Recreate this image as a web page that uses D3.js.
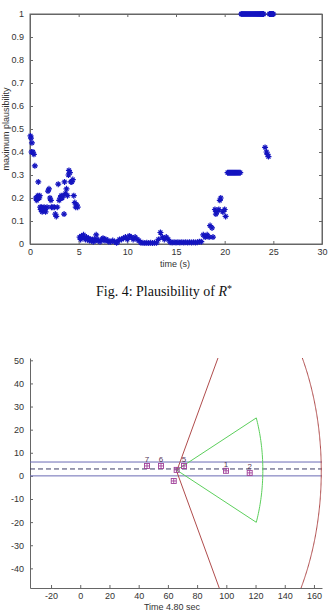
<!DOCTYPE html>
<html>
<head>
<meta charset="utf-8">
<script src="https://cdn.jsdelivr.net/npm/d3@7"></script>
<style>
  body { margin: 0; background: #fff; }
  svg text { font-family: "Liberation Sans", Arial, sans-serif; fill: #333; }
  .axis path, .axis line { stroke: #666; }
  .axis text { font-size: 9px; fill: #333; }
</style>
</head>
<body>
<div id="chart"></div>
<script>
// ---- Fig. 4 : maximum plausibility over time ----
const timeS = [
  0.05, 0.1, 0.2, 0.15, 0.3, 0.4, 0.5, 0.6, 0.7, 0.8, 0.85, 0.95, 1.0, 1.05, 1.1, 1.2, 1.25, 1.35, 1.45, 1.55,
  1.6, 1.75, 1.85, 1.95, 2.05, 2.15, 2.2, 2.35, 2.5, 2.6, 2.7, 2.8, 2.9, 3.0, 3.1, 3.2, 3.3, 3.4, 3.5, 3.55,
  3.65, 3.75, 3.85, 3.95, 4.0, 4.1, 4.2, 4.3, 4.4, 4.5, 4.6, 4.7, 4.8, 4.9,
  5.1, 5.2, 5.3, 5.4, 5.5, 5.6, 5.7, 5.8, 5.9, 6.0, 6.1, 6.2, 6.3, 6.4, 6.5, 6.6, 6.7, 6.8, 6.9, 7.0,
  7.2, 7.4, 7.5, 7.6, 7.7, 7.8, 8.0, 8.1, 8.3, 8.5, 8.7, 8.9, 9.0, 9.2, 9.4, 9.6, 9.8, 10.0, 10.2, 10.4,
  10.6, 10.8, 11.0, 11.2, 11.4, 11.6, 11.8, 12.0, 12.2, 12.4, 12.6, 12.8, 13.0, 13.2, 13.4, 13.6, 13.8, 14.0, 14.2,
  14.4, 14.6, 14.8, 15.0, 15.2, 15.4, 15.6, 15.8, 16.0, 16.2, 16.4, 16.6, 16.8, 17.0, 17.2, 17.4, 17.6,
  17.8, 18.0, 18.2, 18.4, 18.5, 18.7, 18.8, 19.0, 19.1, 19.2, 19.4, 19.5, 19.6, 19.8, 20.0, 20.1,
  20.3, 20.4, 20.5, 20.6, 20.7, 20.8, 20.9, 21.0, 21.1, 21.2, 21.3, 21.4, 21.5, 21.6,
  21.7, 21.8, 21.9, 22.0, 22.1, 22.2, 22.3, 22.4, 22.5, 22.6, 22.7, 22.8, 22.9, 23.0, 23.1, 23.2, 23.3, 23.4,
  23.5, 23.6, 23.7, 23.8, 23.9, 24.0, 24.15, 24.3, 24.4, 24.5, 24.6, 24.7, 24.8, 24.9, 25.0
];
const maxPlaus = [
  0.47, 0.46, 0.44, 0.40, 0.40, 0.39, 0.34, 0.20, 0.19, 0.21, 0.27, 0.20, 0.21, 0.16, 0.15, 0.16, 0.14, 0.15, 0.16, 0.15,
  0.14, 0.16, 0.23, 0.24, 0.20, 0.19, 0.16, 0.16, 0.16, 0.13, 0.12, 0.16, 0.26, 0.19, 0.20, 0.21, 0.20, 0.21, 0.13, 0.27,
  0.22, 0.24, 0.21, 0.30, 0.32, 0.31, 0.27, 0.27, 0.28, 0.21, 0.18, 0.16, 0.17, 0.16,
  0.03, 0.02, 0.035, 0.03, 0.04, 0.025, 0.02, 0.03, 0.02, 0.025, 0.015, 0.02, 0.015, 0.02, 0.01, 0.02, 0.015, 0.04, 0.02, 0.015,
  0.01, 0.02, 0.025, 0.02, 0.015, 0.02, 0.015, 0.01, 0.01, 0.015, 0.01, 0.005, 0.01, 0.02, 0.02, 0.025, 0.03, 0.02, 0.035, 0.03,
  0.02, 0.03, 0.02, 0.015, 0.005, 0.005, 0.004, 0.005, 0.004, 0.005, 0.004, 0.005, 0.005, 0.02, 0.05, 0.03, 0.02, 0.03, 0.02,
  0.008, 0.006, 0.008, 0.006, 0.008, 0.006, 0.008, 0.006, 0.008, 0.006, 0.008, 0.006, 0.008, 0.006, 0.008, 0.01, 0.01,
  0.04, 0.03, 0.04, 0.03, 0.08, 0.07, 0.03, 0.15, 0.13, 0.14, 0.15, 0.19, 0.20, 0.14, 0.15, 0.12,
  0.31, 0.31, 0.31, 0.31, 0.31, 0.31, 0.31, 0.31, 0.31, 0.31, 0.31, 0.31, 0.31, 0.31,
  1, 1, 1, 1, 1, 1, 1, 1, 1, 1, 1, 1, 1, 1, 1, 1, 1, 1,
  1, 1, 1, 1, 1, 1, 0.42, 0.40, 0.39, 0.38, 1, 1, 1, 1, 1
];
const topXTicks = [0, 5, 10, 15, 20, 25, 30];
const topYTicks = [0, 0.1, 0.2, 0.3, 0.4, 0.5, 0.6, 0.7, 0.8, 0.9, 1];

// ---- bottom scene : track at time 4.80 s ----
const laneY = [6, 0];          // solid lane borders
const laneCenterY = [3];       // dashed centre line
const sensorOrigin = [66, 2];  // red field of view apex
const sensorHalfAngle = 60;    // degrees
const sensorRange = 99;
const gateOrigin = [66, 2.5];  // green gate
const gateHalfAngle = 22.5;
const gateRange = 59;
const objX = [45.7, 55.3, 71, 66, 64, 99.8, 116];
const objY = [4.3, 4.3, 4.3, 2.6, -2.2, 2.2, 1.3];
const objLabel = ["7", "6", "5", "", "", "1", "2"];
const botXTicks = [-20, 0, 20, 40, 60, 80, 100, 120, 140, 160];
const botYTicks = [-40, -30, -20, -10, 0, 10, 20, 30, 40, 50];

const svg = d3.select("#chart").append("svg")
  .attr("width", 330).attr("height", 613);

// ================= top chart =================
const x1 = d3.scaleLinear().domain([0, 30]).range([30, 322]);
const y1 = d3.scaleLinear().domain([0, 1]).range([244, 14]);

const g1 = svg.append("g");

g1.append("rect")
  .attr("x", 30).attr("y", 14).attr("width", 292).attr("height", 230)
  .attr("fill", "none").attr("stroke", "#666");

g1.append("g").attr("class", "axis")
  .attr("transform", "translate(0,244)")
  .call(d3.axisBottom(x1).tickValues(topXTicks).tickSizeInner(-3).tickSizeOuter(0).tickPadding(5).tickFormat(d => String(d)));
g1.append("g").attr("class", "axis")
  .attr("transform", "translate(0,14)")
  .call(d3.axisTop(x1).tickValues(topXTicks).tickSizeInner(-3).tickSizeOuter(0).tickFormat(""));
g1.append("g").attr("class", "axis")
  .attr("transform", "translate(30,0)")
  .call(d3.axisLeft(y1).tickValues(topYTicks).tickSizeInner(-3).tickSizeOuter(0).tickPadding(6).tickFormat(d => d === 0 || d === 1 ? String(d) : d3.format(".1f")(d)));
g1.append("g").attr("class", "axis")
  .attr("transform", "translate(322,0)")
  .call(d3.axisRight(y1).tickValues(topYTicks).tickSizeInner(-3).tickSizeOuter(0).tickFormat(""));

const star = "M-3,0H3M0,-3V3M-2,-2L2,2M-2,2L2,-2";
g1.selectAll(".pt")
  .data(timeS.map((t, i) => [t, maxPlaus[i]]))
  .enter().append("path")
  .attr("class", "pt")
  .attr("d", star)
  .attr("transform", d => `translate(${x1(d[0])},${y1(d[1])})`)
  .attr("stroke", "#1414c0")
  .attr("stroke-width", 1.2)
  .attr("fill", "none");

g1.append("text")
  .text("time (s)")
  .attr("x", 175).attr("y", 267)
  .attr("text-anchor", "middle")
  .style("font-size", "9px");

g1.append("text")
  .text("maximum plausibility")
  .attr("transform", "translate(9,129) rotate(-90)")
  .attr("text-anchor", "middle")
  .style("font-size", "9px");

// caption
const cap = svg.append("text")
  .attr("x", 164).attr("y", 296)
  .attr("text-anchor", "middle")
  .style("font-family", "'Liberation Serif', 'Times New Roman', serif")
  .style("font-size", "14px")
  .style("fill", "#111");
cap.append("tspan").text("Fig. 4: Plausibility of ");
cap.append("tspan").text("R").style("font-style", "italic");
cap.append("tspan").text("*").attr("dy", -4).style("font-size", "10px");

// ================= bottom chart =================
const x2 = d3.scaleLinear().domain([-34.4, 165.5]).range([30, 322]);
const y2 = d3.scaleLinear().domain([-48.5, 51]).range([588, 358]);

const g2 = svg.append("g");

g2.append("g").attr("class", "axis")
  .attr("transform", "translate(0,588)")
  .call(d3.axisBottom(x2).tickValues(botXTicks).tickSizeInner(-3).tickSizeOuter(0).tickPadding(5).tickFormat(d => String(d)));
g2.append("g").attr("class", "axis")
  .attr("transform", "translate(30,0)")
  .call(d3.axisLeft(y2).tickValues(botYTicks).tickSizeInner(-3).tickSizeOuter(0).tickPadding(6).tickFormat(d => String(d)));

// lane lines
g2.selectAll(".lane")
  .data(laneY).enter().append("line")
  .attr("x1", x2(-34.4)).attr("x2", x2(165.5))
  .attr("y1", d => y2(d)).attr("y2", d => y2(d))
  .attr("stroke", "#6a6ab4").attr("stroke-width", 1);
g2.selectAll(".laneC")
  .data(laneCenterY).enter().append("line")
  .attr("x1", x2(-34.4)).attr("x2", x2(165.5))
  .attr("y1", d => y2(d)).attr("y2", d => y2(d))
  .attr("stroke", "#3c3c64").attr("stroke-width", 1)
  .attr("stroke-dasharray", "5,3");

// red field of view: two rays and an arc clipped to the plot
const rad = Math.PI / 180;
const yTop = 51, yBot = -48.5;
const line2 = d3.line().x(d => x2(d[0])).y(d => y2(d[1]));
const tanA = Math.tan(sensorHalfAngle * rad);
[yTop, yBot].forEach(yy => {
  const dy = yy - sensorOrigin[1];
  g2.append("path")
    .attr("d", line2([sensorOrigin, [sensorOrigin[0] + Math.abs(dy) / tanA, yy]]))
    .attr("stroke", "#b04c4c").attr("fill", "none");
});
const arcPts = d3.range(yBot, yTop + 0.01, 0.5).map(yy => {
  const dy = yy - sensorOrigin[1];
  return [sensorOrigin[0] + Math.sqrt(sensorRange * sensorRange - dy * dy), yy];
});
g2.append("path")
  .attr("d", line2(arcPts))
  .attr("stroke", "#b04c4c").attr("fill", "none");

// green gate sector
const gatePts = [gateOrigin];
d3.range(gateHalfAngle, -gateHalfAngle - 0.01, -1).forEach(a => {
  gatePts.push([gateOrigin[0] + gateRange * Math.cos(a * rad), gateOrigin[1] + gateRange * Math.sin(a * rad)]);
});
gatePts.push(gateOrigin);
g2.append("path")
  .attr("d", line2(gatePts))
  .attr("stroke", "#5ccf5c").attr("fill", "none");

// tracked objects
const objs = objX.map((x, i) => ({ x: x, y: objY[i], label: objLabel[i] }));
const og = g2.selectAll(".obj").data(objs).enter().append("g")
  .attr("transform", d => `translate(${x2(d.x)},${y2(d.y)})`);
og.append("rect")
  .attr("x", -2.5).attr("y", -2.5).attr("width", 5).attr("height", 5)
  .attr("fill", "none").attr("stroke", "#a0409a").attr("stroke-width", 0.9);
og.append("path")
  .attr("d", "M-2.5,0H2.5M0,-2.5V2.5")
  .attr("stroke", "#a0409a").attr("stroke-width", 0.9);
og.append("text")
  .text(d => d.label)
  .attr("x", 0).attr("y", -4)
  .attr("text-anchor", "middle")
  .style("font-size", "8px")
  .style("fill", "#553355");

g2.append("text")
  .text("Time 4.80 sec")
  .attr("x", 172).attr("y", 610)
  .attr("text-anchor", "middle")
  .style("font-size", "9px");
</script>
</body>
</html>
